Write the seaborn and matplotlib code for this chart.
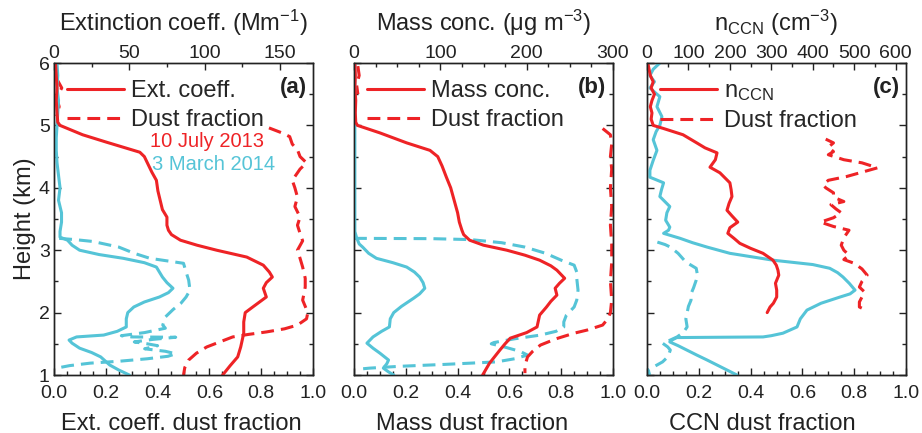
import numpy as np
import seaborn as sns
import matplotlib.pyplot as plt
from matplotlib.lines import Line2D
from matplotlib.ticker import MultipleLocator

# ---- (a) extinction coefficient / dust fraction ----
a_jul_ext_h = [6.0, 5.8, 5.6, 5.4, 5.2, 5.05, 5.0, 4.85, 4.73, 4.57, 4.5, 4.40, 4.25, 4.12, 3.95, 3.85, 3.65,
               3.53, 3.4, 3.32, 3.25, 3.16, 3.08, 3.0, 2.89, 2.76, 2.65, 2.57, 2.48, 2.39, 2.25, 2.09, 2.0, 1.85,
               1.67, 1.45, 1.29, 1.15, 1.0]
a_jul_ext = [1, 1.5, 2, 1.5, 2, 2.5, 4, 19, 35, 57, 60, 62, 65, 68, 69, 70, 72, 75, 75, 76, 78, 84, 95, 108, 128,
             139, 143, 145, 141, 139, 141, 132, 127, 126, 126, 124, 122, 117, 112]
a_jul_dust_top_h = [5.75, 5.6, 5.45, 5.3, 5.15]
a_jul_dust_top = [0.01, 0.03, 0.01, 0.02, 0.01]
a_jul_dust_h = [4.96, 4.88, 4.82, 4.7, 4.61, 4.5, 4.40, 4.3, 4.12, 4.0, 3.85, 3.7, 3.53, 3.4, 3.27, 3.15, 3.0,
                2.87, 2.73, 2.55, 2.41, 2.3, 2.2, 2.1, 2.0, 1.9, 1.8, 1.74, 1.69, 1.65, 1.61, 1.53, 1.45, 1.35,
                1.24, 1.12, 1.0]
a_jul_dust = [0.83, 0.88, 0.91, 0.92, 0.94, 0.95, 0.975, 0.95, 0.92, 0.93, 0.94, 0.93, 0.95, 0.94, 0.95, 0.96,
              0.94, 0.95, 0.96, 0.97, 0.97, 0.965, 0.96, 0.97, 0.98, 0.975, 0.94, 0.89, 0.82, 0.75, 0.69, 0.64,
              0.59, 0.55, 0.52, 0.505, 0.50]
a_mar_ext_h = [6.0, 5.8, 5.6, 5.4, 5.2, 5.0, 4.8, 4.6, 4.4, 4.2, 4.0, 3.8, 3.6, 3.45, 3.3, 3.21, 3.16, 3.08, 3.0,
               2.93, 2.87, 2.8, 2.73, 2.65, 2.57, 2.48, 2.39, 2.32, 2.25, 2.17, 2.09, 2.0, 1.9, 1.77, 1.7, 1.64,
               1.61, 1.56, 1.51, 1.43, 1.36, 1.29, 1.16, 1.08, 1.0]
a_mar_ext = [2, 2.5, 2, 3, 2.5, 2, 1.5, 1.5, 2, 3, 4, 3, 5, 5, 4, 4, 9, 12, 17, 30, 46, 60, 68, 70, 72, 75, 79,
             76, 70, 60, 53, 49, 48, 48, 42, 33, 15, 10, 12, 17, 25, 31, 37, 43, 50]
a_mar_dust_h = [3.19, 3.17, 3.14, 3.05, 2.95, 2.87, 2.79, 2.65, 2.52, 2.36, 2.25, 2.15, 2.05, 1.93, 1.8, 1.75,
                1.68, 1.63, 1.61, 1.605, 1.57, 1.53, 1.50, 1.47, 1.42, 1.38, 1.34, 1.30, 1.26, 1.22, 1.19, 1.15,
                1.11]
a_mar_dust = [0.02, 0.08, 0.15, 0.25, 0.31, 0.37, 0.50, 0.51, 0.52, 0.525, 0.51, 0.49, 0.46, 0.43, 0.42, 0.43,
              0.35, 0.26, 0.30, 0.47, 0.38, 0.31, 0.36, 0.40, 0.35, 0.43, 0.47, 0.44, 0.36, 0.25, 0.14, 0.06, 0.01]

# ---- (b) mass concentration / dust fraction ----
b_jul_mass_h = [6.0, 5.8, 5.6, 5.4, 5.2, 5.05, 5.0, 4.88, 4.72, 4.6, 4.5, 4.35, 4.17, 4.0, 3.85, 3.6, 3.45, 3.32,
                3.25, 3.16, 3.08, 3.0, 2.92, 2.84, 2.75, 2.68, 2.55, 2.47, 2.39, 2.28, 2.18, 2.09, 1.96, 1.77,
                1.68, 1.59, 1.5, 1.40, 1.19, 1.0]
b_jul_mass = [1, 1.5, 1, 2, 1.5, 2, 4, 30, 61, 88, 97, 102, 107, 112, 115, 120, 122, 125, 127, 134, 150, 177,
              198, 215, 228, 235, 244, 238, 233, 235, 228, 223, 215, 212, 200, 181, 175, 169, 157, 149]
b_jul_dust_top_h = [5.95, 5.8, 5.65, 5.5]
b_jul_dust_top = [0.015, 0.02, 0.01, 0.015]
b_jul_dust_h = [4.95, 4.85, 4.7, 4.5, 4.3, 4.0, 3.7, 3.4, 3.1, 2.8, 2.5, 2.2, 2.0, 1.9, 1.8, 1.72, 1.67, 1.58,
                1.48, 1.38, 1.29, 1.15, 1.03]
b_jul_dust = [0.96, 0.99, 0.995, 0.99, 0.995, 0.99, 0.995, 0.99, 0.995, 0.995, 0.99, 0.995, 0.99, 0.98, 0.96,
              0.9, 0.85, 0.78, 0.72, 0.69, 0.67, 0.66, 0.66]
b_mar_mass_h = [6.0, 5.5, 5.0, 4.5, 4.0, 3.6, 3.3, 3.2, 3.1, 3.05, 2.95, 2.87, 2.8, 2.73, 2.65, 2.57, 2.48, 2.39,
                2.3, 2.23, 2.1, 2.0, 1.9, 1.77, 1.7, 1.61, 1.51, 1.43, 1.35, 1.24, 1.18, 1.11, 1.05, 1.0]
b_mar_mass = [1, 1, 1, 1, 1, 1, 1, 3, 6, 10, 17, 26, 45, 61, 70, 76, 80, 82, 76, 69, 55, 46, 42, 41, 32, 22, 15,
              22, 30, 40, 38, 34, 40, 46]
b_mar_dust_h = [3.19, 3.185, 3.17, 3.12, 3.05, 2.95, 2.84, 2.76, 2.65, 2.55, 2.36, 2.2, 2.09, 1.96, 1.85, 1.77,
                1.70, 1.64, 1.58, 1.52, 1.50, 1.45, 1.38, 1.32, 1.26, 1.21, 1.17, 1.14, 1.11, 1.09]
b_mar_dust = [0.0, 0.3, 0.45, 0.57, 0.66, 0.74, 0.80, 0.85, 0.86, 0.86, 0.865, 0.86, 0.85, 0.82, 0.81, 0.81,
              0.78, 0.72, 0.62, 0.54, 0.53, 0.58, 0.64, 0.67, 0.62, 0.55, 0.35, 0.18, 0.06, 0.01]

# ---- (c) CCN number concentration / dust fraction ----
c_jul_ccn_h = [6.0, 5.9, 5.8, 5.7, 5.6, 5.5, 5.4, 5.3, 5.2, 5.1, 5.0, 4.95, 4.85, 4.72, 4.64, 4.56, 4.45, 4.33,
               4.24, 4.08, 3.97, 3.86, 3.75, 3.64, 3.55, 3.45, 3.36, 3.27, 3.19, 3.11, 3.03, 2.95, 2.84, 2.76,
               2.68, 2.6, 2.47, 2.36, 2.25, 2.15, 2.09, 2.0]
c_jul_ccn = [2, 5, 8, 15, 10, 18, 12, 8, 12, 10, 15, 40, 87, 120, 140, 169, 165, 152, 176, 200, 203, 205, 198,
             193, 205, 219, 200, 195, 210, 224, 250, 280, 304, 312, 316, 318, 310, 313, 313, 305, 297, 290]
c_jul_dust_h = [4.78, 4.72, 4.65, 4.58, 4.53, 4.45, 4.4, 4.32, 4.25, 4.18, 4.12, 4.05, 4.0, 3.92, 3.85, 3.78,
                3.73, 3.66, 3.6, 3.52, 3.45, 3.38, 3.32, 3.2, 3.08, 3.0, 2.92, 2.85, 2.79, 2.7, 2.6, 2.5, 2.41,
                2.33, 2.25, 2.17, 2.09, 2.05]
c_jul_dust = [0.69, 0.72, 0.70, 0.72, 0.70, 0.76, 0.83, 0.89, 0.83, 0.77, 0.70, 0.68, 0.69, 0.72, 0.72, 0.76,
              0.71, 0.73, 0.75, 0.72, 0.67, 0.72, 0.78, 0.76, 0.75, 0.76, 0.78, 0.76, 0.80, 0.83, 0.85, 0.83,
              0.82, 0.84, 0.83, 0.82, 0.82, 0.84]
c_mar_ccn_h = [6.0, 5.9, 5.8, 5.7, 5.6, 5.46, 5.3, 5.14, 5.0, 4.9, 4.77, 4.6, 4.44, 4.28, 4.17, 4.08, 3.97, 3.86,
               3.7, 3.6, 3.48, 3.37, 3.32, 3.27, 3.19, 3.12, 3.05, 2.95, 2.84, 2.77, 2.71, 2.64, 2.57, 2.47,
               2.36, 2.3, 2.25, 2.15, 2.04, 1.9, 1.77, 1.67, 1.63, 1.61, 1.60, 1.56, 1.53, 1.47, 1.40, 1.32,
               1.24, 1.11, 1.0]
c_mar_ccn = [31, 15, 7, 18, 7, 31, 24, 36, 31, 22, 15, 24, 15, 7, 7, 40, 35, 31, 55, 48, 45, 55, 52, 40, 80, 110,
             145, 200, 304, 400, 441, 460, 473, 488, 502, 490, 466, 420, 386, 370, 362, 328, 300, 280, 72, 60,
             55, 75, 96, 120, 145, 184, 217]
c_mar_dust_h = [3.13, 3.09, 3.05, 2.95, 2.81, 2.71, 2.6, 2.52, 2.4, 2.3, 2.2, 2.1, 2.0, 1.9, 1.77, 1.68, 1.61,
                1.56, 1.51, 1.45, 1.40, 1.34, 1.29, 1.21, 1.14, 1.08, 1.0]
c_mar_dust = [0.04, 0.07, 0.09, 0.12, 0.15, 0.19, 0.195, 0.19, 0.18, 0.17, 0.17, 0.16, 0.155, 0.15, 0.155, 0.14,
              0.116, 0.09, 0.06, 0.08, 0.09, 0.085, 0.08, 0.06, 0.03, 0.005, 0.01]

top_labels = ['Extinction coeff. (Mm$^{-1}$)', 'Mass conc. (μg m$^{-3}$)', 'n$_{\\mathrm{CCN}}$ (cm$^{-3}$)']
bottom_labels = ['Ext. coeff. dust fraction', 'Mass dust fraction', 'CCN dust fraction']
legend_labels = ['Ext. coeff.', 'Mass conc.', 'n$_{\\mathrm{CCN}}$']
panel_tags = ['(a)', '(b)', '(c)']
top_limits = [172, 300, 625]
top_major = [50, 100, 100]
top_minor = [25, 25, 50]

RED = '#EE2326'
CYAN = '#55C4D7'
DASH = (0, (4.2, 2.3))
LW = 2.2

sns.set_theme(style='ticks')
plt.rcParams['font.family'] = ['Liberation Sans', 'DejaVu Sans']
plt.rcParams['mathtext.fontset'] = 'custom'
plt.rcParams['mathtext.rm'] = 'Liberation Sans'
plt.rcParams['mathtext.it'] = 'Liberation Sans:italic'
plt.rcParams['axes.linewidth'] = 1.0
plt.rcParams['axes.edgecolor'] = '#222222'

fig = plt.figure(figsize=(9.22, 4.33), dpi=100)
lefts = [54 / 922, 354 / 922, 647 / 922]
width = 259 / 922
bottom = 58 / 433
height = 312 / 433

panels = [
    (a_jul_ext_h, a_jul_ext, a_jul_dust_h, a_jul_dust, a_mar_ext_h, a_mar_ext, a_mar_dust_h, a_mar_dust),
    (b_jul_mass_h, b_jul_mass, b_jul_dust_h, b_jul_dust, b_mar_mass_h, b_mar_mass, b_mar_dust_h, b_mar_dust),
    (c_jul_ccn_h, c_jul_ccn, c_jul_dust_h, c_jul_dust, c_mar_ccn_h, c_mar_ccn, c_mar_dust_h, c_mar_dust),
]
label_x = [0.49, 0.455, 0.445]

for i, (jh, jv, jdh, jd, mh, mv, mdh, md) in enumerate(panels):
    ax = fig.add_axes([lefts[i], bottom, width, height])
    ax2 = ax.twiny()

    # dust fractions on the bottom axis
    sns.lineplot(x=md, y=mdh, sort=False, estimator=None, color=CYAN, lw=LW, linestyle=DASH, ax=ax)
    sns.lineplot(x=jd, y=jdh, sort=False, estimator=None, color=RED, lw=LW, linestyle=DASH, ax=ax)
    if i == 0:
        sns.lineplot(x=a_jul_dust_top, y=a_jul_dust_top_h, sort=False, estimator=None, color=RED, lw=LW,
                     linestyle=DASH, ax=ax)
    if i == 1:
        sns.lineplot(x=b_jul_dust_top, y=b_jul_dust_top_h, sort=False, estimator=None, color=RED, lw=LW,
                     linestyle=DASH, ax=ax)

    # profiles on the top axis
    sns.lineplot(x=mv, y=mh, sort=False, estimator=None, color=CYAN, lw=LW, ax=ax2)
    sns.lineplot(x=jv, y=jh, sort=False, estimator=None, color=RED, lw=LW, ax=ax2)

    ax.set_xlim(0, 1)
    ax.set_ylim(1, 6)
    ax2.set_xlim(0, top_limits[i])
    ax2.set_ylim(1, 6)

    ax.xaxis.set_major_locator(MultipleLocator(0.2))
    ax.xaxis.set_minor_locator(MultipleLocator(0.05))
    ax.xaxis.set_major_formatter(plt.FormatStrFormatter('%.1f'))
    ax.yaxis.set_major_locator(MultipleLocator(1))
    ax.yaxis.set_minor_locator(MultipleLocator(0.5))
    ax2.xaxis.set_major_locator(MultipleLocator(top_major[i]))
    ax2.xaxis.set_minor_locator(MultipleLocator(top_minor[i]))

    ax.tick_params(which='both', direction='in', top=False, right=True, colors='#222222', labelsize=14,
                   width=1.0)
    ax.tick_params(which='major', length=5)
    ax.tick_params(which='minor', length=3)
    ax.tick_params(axis='x', pad=7)
    ax.tick_params(axis='y', pad=3)
    ax2.tick_params(which='both', direction='in', colors='#222222', labelsize=14, width=1.0, pad=0.5)
    ax2.tick_params(which='major', length=5)
    ax2.tick_params(which='minor', length=3)

    ax.set_xlabel(bottom_labels[i], fontsize=17, labelpad=8, color='#222222', x=label_x[i])
    ax2.set_xlabel(top_labels[i], fontsize=17, labelpad=10.5, color='#222222')
    if i == 0:
        ax.set_ylabel('Height (km)', fontsize=17, labelpad=2, color='#222222')
    else:
        ax.set_ylabel('')
        ax.tick_params(axis='y', labelleft=False)
    ax2.set_ylabel('')

    handles = [Line2D([], [], color=RED, lw=LW), Line2D([], [], color=RED, lw=LW, linestyle=DASH)]
    ax2.legend(handles, [legend_labels[i], 'Dust fraction'], loc='upper left', bbox_to_anchor=(0.05, 0.945),
               frameon=False, fontsize=17, handlelength=2.4, handletextpad=0.3, labelspacing=0.3,
               borderpad=0, borderaxespad=0)
    ax2.text(0.975, 0.92, panel_tags[i], transform=ax2.transAxes, ha='right', va='center', fontsize=16,
             fontweight='bold', color='#222222')

    if i == 0:
        ax2.text(0.37, 0.747, '10 July 2013', transform=ax2.transAxes, ha='left', va='center', fontsize=14.5,
                 color=RED)
        ax2.text(0.378, 0.676, '3 March 2014', transform=ax2.transAxes, ha='left', va='center',
                 fontsize=14.5, color=CYAN)

fig.savefig('out.png', dpi=100)
